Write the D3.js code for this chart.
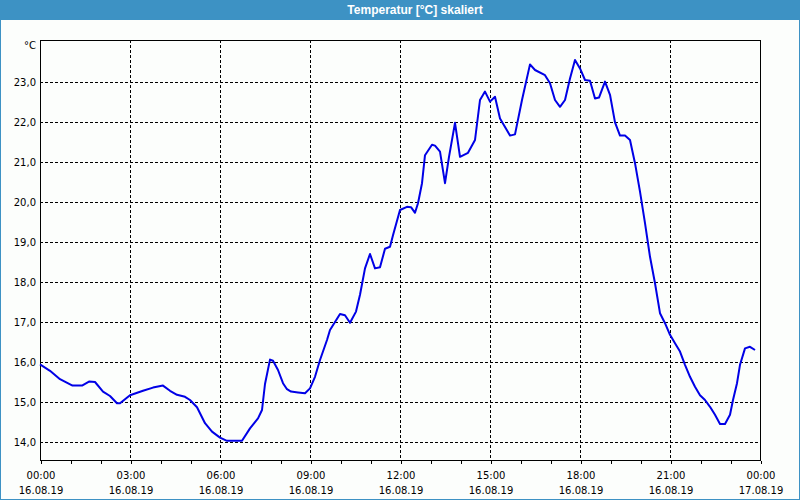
<!DOCTYPE html>
<html>
<head>
<meta charset="utf-8">
<script src="https://cdn.jsdelivr.net/npm/d3@7"></script>
<style>
  html, body { margin: 0; padding: 0; background: #fcfefc; }
  svg { display: block; }
</style>
</head>
<body>
<div id="chart"></div>
<script>
// measured values, 16.08.19
const times = [
  "00:00", "00:20", "00:40", "01:05", "01:24", "01:38", "01:50", "02:06", "02:20", "02:34", "02:40",
  "03:00", "03:26", "03:46", "04:06", "04:20", "04:34", "04:50", "05:00", "05:14", "05:30", "05:44",
  "06:00", "06:14", "06:44", "07:00", "07:16", "07:24", "07:30", "07:40", "07:46", "07:56", "08:06",
  "08:14", "08:22", "08:36", "08:50", "09:00", "09:10", "09:20", "09:34", "09:40", "10:00", "10:10",
  "10:20", "10:32", "10:40", "10:50", "11:00", "11:10", "11:20", "11:30", "11:40", "11:46", "12:00",
  "12:14", "12:22", "12:30", "12:36", "12:44", "12:50", "13:04", "13:10", "13:20", "13:30", "13:38",
  "13:50", "14:00", "14:16", "14:30", "14:40", "14:50", "15:00", "15:10", "15:20", "15:40", "15:50",
  "16:04", "16:20", "16:30", "16:50", "17:00", "17:10", "17:20", "17:30", "17:40", "17:50", "18:00",
  "18:10", "18:20", "18:30", "18:38", "18:50", "19:00", "19:10", "19:20", "19:30", "19:40", "19:50",
  "20:00", "20:10", "20:20", "20:30", "20:40", "20:50", "21:00", "21:10", "21:20", "21:30", "21:40",
  "21:50", "22:00", "22:10", "22:20", "22:30", "22:40", "22:50", "23:00", "23:06", "23:14", "23:20",
  "23:30", "23:40", "23:50"
];
const temps = [
  15.94, 15.78, 15.57, 15.41, 15.41, 15.51, 15.50, 15.26, 15.15, 14.97, 14.97,
  15.17, 15.28, 15.36, 15.41, 15.28, 15.18, 15.13, 15.05, 14.87, 14.47, 14.26,
  14.11, 14.03, 14.03, 14.34, 14.59, 14.80, 15.45, 16.06, 16.03, 15.80, 15.47,
  15.32, 15.26, 15.24, 15.22, 15.34, 15.63, 16.05, 16.55, 16.80, 17.20, 17.17,
  16.98, 17.26, 17.68, 18.34, 18.70, 18.34, 18.37, 18.83, 18.88, 19.17, 19.80,
  19.88, 19.87, 19.73, 19.97, 20.47, 21.17, 21.43, 21.41, 21.26, 20.47, 21.13,
  21.98, 21.13, 21.23, 21.55, 22.55, 22.76, 22.51, 22.63, 22.09, 21.66, 21.69,
  22.55, 23.44, 23.30, 23.17, 22.97, 22.55, 22.38, 22.55, 23.09, 23.55, 23.34,
  23.05, 23.03, 22.59, 22.61, 23.01, 22.68, 21.99, 21.66, 21.66, 21.55, 20.97,
  20.26, 19.47, 18.63, 17.97, 17.22, 16.97, 16.68, 16.47, 16.26, 15.93, 15.63,
  15.38, 15.17, 15.05, 14.88, 14.68, 14.45, 14.45, 14.68, 15.05, 15.47, 15.93,
  16.34, 16.38, 16.30
];
const yTicks = [14, 15, 16, 17, 18, 19, 20, 21, 22, 23];
const chartTitle = "Temperatur [°C] skaliert";
const unitLabel = "°C";

const width = 800, height = 500;
const margin = { top: 40, right: 40, bottom: 40, left: 40 };

const parse = d3.timeParse("%d.%m.%y %H:%M");
const data = times.map((t, i) => ({ date: parse("16.08.19 " + t), value: temps[i] }));

const start = parse("16.08.19 00:00");
const end = parse("17.08.19 00:00");

const x = d3.scaleTime()
  .domain([start, end])
  .range([margin.left, width - margin.right]);

const y = d3.scaleLinear()
  .domain([13.55, 24.05])
  .range([height - margin.bottom, margin.top]);

const svg = d3.select("#chart")
  .append("svg")
  .attr("width", width)
  .attr("height", height)
  .style("font-family", "'DejaVu Sans', Tahoma, sans-serif");

// window frame + title bar
svg.append("rect")
  .attr("x", 0.5).attr("y", 0.5)
  .attr("width", width - 1).attr("height", height - 1)
  .attr("fill", "#fcfefc")
  .attr("stroke", "#3d92c4");

svg.append("rect")
  .attr("x", 0).attr("y", 0)
  .attr("width", width).attr("height", 20)
  .attr("fill", "#3d92c4");

// title sits a bit right of centre, like the original
svg.append("text")
  .attr("x", 415)
  .attr("y", 14)
  .attr("text-anchor", "middle")
  .attr("fill", "white")
  .style("font-family", "'Liberation Sans', Arial, sans-serif")
  .style("font-weight", "bold")
  .style("font-size", "12px")
  .text(chartTitle);

// grid
const grid = svg.append("g")
  .attr("stroke", "black")
  .attr("stroke-width", 1)
  .attr("stroke-dasharray", "3,2")
  .attr("shape-rendering", "crispEdges");

grid.selectAll("line.h")
  .data(yTicks)
  .enter()
  .append("line")
  .attr("class", "h")
  .attr("x1", margin.left)
  .attr("x2", width - margin.right)
  .attr("y1", d => Math.round(y(d)) + 0.5)
  .attr("y2", d => Math.round(y(d)) + 0.5);

const majorTicks = d3.timeHour.every(3).range(start, d3.timeHour.offset(end, 1));

grid.selectAll("line.v")
  .data(majorTicks.slice(1, -1))
  .enter()
  .append("line")
  .attr("class", "v")
  .attr("x1", d => Math.round(x(d)) + 0.5)
  .attr("x2", d => Math.round(x(d)) + 0.5)
  .attr("y1", margin.top)
  .attr("y2", height - margin.bottom);

// x axis: hourly ticks, labels every 3h
const xAxis = d3.axisBottom(x)
  .ticks(d3.timeHour.every(1))
  .tickSize(3)
  .tickFormat("");

const gx = svg.append("g")
  .attr("transform", `translate(0.5,${height - margin.bottom + 0.5})`)
  .call(xAxis);
gx.select(".domain").remove();
gx.selectAll("line").attr("stroke", "black").attr("shape-rendering", "crispEdges");

const fmtTime = d3.timeFormat("%H:%M");
const fmtDate = d3.timeFormat("%d.%m.%y");

const xl = svg.append("g")
  .attr("font-size", "10px")
  .attr("fill", "black")
  .attr("text-anchor", "middle");

xl.selectAll("text.t")
  .data(majorTicks)
  .enter()
  .append("text")
  .attr("class", "t")
  .attr("x", d => x(d) + 1)
  .attr("y", 479)
  .text(fmtTime);

xl.selectAll("text.d")
  .data(majorTicks)
  .enter()
  .append("text")
  .attr("class", "d")
  .attr("x", d => x(d) + 1)
  .attr("y", 494)
  .text(fmtDate);

// y axis labels
const yAxis = d3.axisLeft(y)
  .tickValues(yTicks)
  .tickSize(0)
  .tickPadding(4)
  .tickFormat(d => d3.format(".1f")(d).replace(".", ","));

const gy = svg.append("g")
  .attr("transform", `translate(${margin.left},0)`)
  .call(yAxis);
gy.select(".domain").remove();
gy.selectAll("text")
  .attr("font-size", "10px")
  .attr("font-family", "'DejaVu Sans', sans-serif")
  .attr("fill", "black");

svg.append("text")
  .attr("x", margin.left - 4)
  .attr("y", 49)
  .attr("text-anchor", "end")
  .attr("font-size", "10px")
  .attr("fill", "black")
  .text(unitLabel);

// plot frame
svg.append("rect")
  .attr("x", margin.left + 0.5)
  .attr("y", margin.top + 0.5)
  .attr("width", width - margin.left - margin.right)
  .attr("height", height - margin.top - margin.bottom)
  .attr("fill", "none")
  .attr("stroke", "black")
  .attr("shape-rendering", "crispEdges");

// temperature line
const line = d3.line()
  .x(d => x(d.date))
  .y(d => y(d.value));

svg.append("path")
  .datum(data)
  .attr("fill", "none")
  .attr("stroke", "#0000e6")
  .attr("stroke-width", 2)
  .attr("stroke-linejoin", "round")
  .attr("d", line);
</script>
</body>
</html>
